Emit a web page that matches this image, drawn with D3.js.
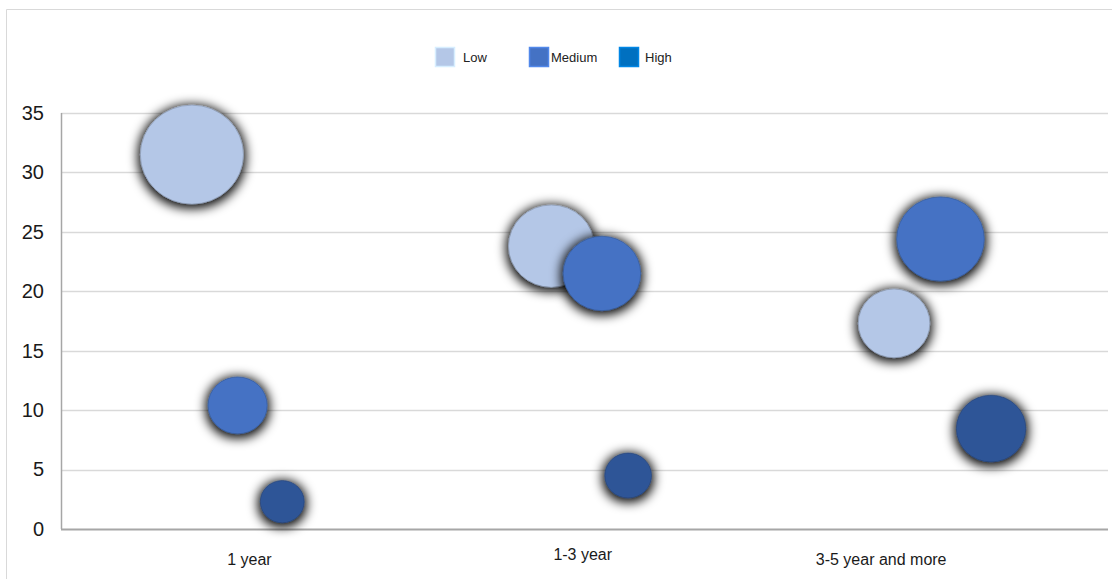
<!DOCTYPE html>
<html>
<head>
<meta charset="utf-8">
<script src="https://cdn.jsdelivr.net/npm/d3@7"></script>
<style>
  html, body { margin: 0; padding: 0; background: #fff; }
  svg { display: block; font-family: "Liberation Sans", Arial, sans-serif; }
</style>
</head>
<body>
<svg id="chart" width="1112" height="579"></svg>
<script>
// Category labels along the x axis and where each sits on the category scale
const categories = ["1 year", "1-3 year", "3-5 year and more"];
const categoryPos = [0.54, 1.495, 2.35];

// Series names and colours
const seriesNames = ["Low", "Medium", "High"];
const seriesColors = ["#B4C7E7", "#4472C4", "#2F5597"];
const legendColors = ["#B4C7E7", "#4472C4", "#0070C0"];

// Bubble x placement (category scale), y value, and bubble size per series
const lowX = [0.375, 1.405, 2.387];
const lowY = [31.5, 23.8, 17.3];
const lowSize = [33.0, 22.8, 15.9];

const mediumX = [0.506, 1.55, 2.52];
const mediumY = [10.4, 21.5, 24.4];
const mediumSize = [10.9, 18.7, 23.9];

const highX = [0.634, 1.625, 2.665];
const highY = [2.3, 4.5, 8.45];
const highSize = [6.0, 6.8, 15.0];

const yTicks = [0, 5, 10, 15, 20, 25, 30, 35];

const series = [
  { name: seriesNames[0], color: seriesColors[0], x: lowX, y: lowY, s: lowSize },
  { name: seriesNames[1], color: seriesColors[1], x: mediumX, y: mediumY, s: mediumSize },
  { name: seriesNames[2], color: seriesColors[2], x: highX, y: highY, s: highSize }
];

const svg = d3.select("#chart");

// Outer chart frame
svg.append("path")
  .attr("d", "M6.5,579 L6.5,9.5 L1112,9.5")
  .attr("fill", "none")
  .attr("stroke", "#d9d9d9")
  .attr("stroke-width", 1);

const plot = { left: 61, right: 1108, top: 113, bottom: 529 };

const x = d3.scaleLinear().domain([0, 3]).range([plot.left, plot.right]);
const y = d3.scaleLinear().domain([0, 35]).range([plot.bottom, plot.top]);
const r = d3.scaleSqrt().domain([0, 35]).range([0, 52]);

// Dark soft shadow behind each bubble
const defs = svg.append("defs");
const f = defs.append("filter").attr("id", "bubbleShadow")
  .attr("x", "-50%").attr("y", "-50%").attr("width", "200%").attr("height", "200%");
f.append("feMorphology").attr("in", "SourceAlpha").attr("operator", "dilate").attr("radius", 1.5).attr("result", "grow");
f.append("feGaussianBlur").attr("in", "grow").attr("stdDeviation", 5.5).attr("result", "blur");
f.append("feOffset").attr("in", "blur").attr("dx", 0).attr("dy", 2).attr("result", "off");
f.append("feComponentTransfer").attr("in", "off").attr("result", "shadow")
  .append("feFuncA").attr("type", "linear").attr("slope", 1.0);
const merge = f.append("feMerge");
merge.append("feMergeNode").attr("in", "shadow");
merge.append("feMergeNode").attr("in", "SourceGraphic");

// Horizontal gridlines
svg.append("g")
  .selectAll("line")
  .data(yTicks.filter(t => t > 0))
  .join("line")
  .attr("x1", plot.left).attr("x2", plot.right)
  .attr("y1", d => Math.round(y(d)) + 0.5).attr("y2", d => Math.round(y(d)) + 0.5)
  .attr("stroke", "#d9d9d9").attr("stroke-width", 1.5);

// Y axis with tick labels
const yAxis = svg.append("g")
  .attr("transform", `translate(${plot.left},0)`)
  .call(d3.axisLeft(y).tickValues(yTicks).tickSize(0).tickPadding(17));
yAxis.select(".domain")
  .attr("stroke", "#a6a6a6").attr("stroke-width", 1.5)
  .attr("d", `M0.5,${plot.top}V${plot.bottom}`);
yAxis.selectAll("text")
  .attr("font-size", 20)
  .attr("fill", "#1a1a1a")
  .attr("font-family", "'Liberation Sans', Arial, sans-serif");

// X axis baseline
svg.append("line")
  .attr("x1", plot.left).attr("x2", plot.right)
  .attr("y1", plot.bottom + 0.5).attr("y2", plot.bottom + 0.5)
  .attr("stroke", "#a6a6a6").attr("stroke-width", 2);

// Category labels
const labelY = [565, 560, 565];
svg.append("g")
  .selectAll("text")
  .data(categories)
  .join("text")
  .attr("x", (d, i) => x(categoryPos[i]))
  .attr("y", (d, i) => labelY[i])
  .attr("text-anchor", "middle")
  .attr("font-size", 16)
  .attr("fill", "#1a1a1a")
  .text(d => d);

// Bubbles
const bubbles = svg.append("g");
series.forEach(s => {
  const pts = s.y.map((v, i) => ({ x: s.x[i], y: v, size: s.s[i] }));
  bubbles.append("g")
    .attr("filter", "url(#bubbleShadow)")
    .selectAll("ellipse")
    .data(pts)
    .join("ellipse")
    .attr("cx", d => x(d.x))
    .attr("cy", d => y(d.y))
    .attr("rx", d => r(d.size) * 1.02)
    .attr("ry", d => r(d.size) * 0.98)
    .attr("fill", s.color)
    .attr("stroke", d3.color(s.color).darker(0.8))
    .attr("stroke-width", 0.6);
});

// Legend
const legendItems = [
  { name: seriesNames[0], color: legendColors[0], box: 435, text: 463 },
  { name: seriesNames[1], color: legendColors[1], box: 529, text: 551 },
  { name: seriesNames[2], color: legendColors[2], box: 619, text: 645 }
];
const legend = svg.append("g");
legendItems.forEach(it => {
  legend.append("rect")
    .attr("x", it.box + 0.5).attr("y", 47.5)
    .attr("width", 19).attr("height", 19)
    .attr("fill", it.color)
    .attr("stroke", d3.color(it.color).brighter(0.5))
    .attr("stroke-width", 1.5);
  legend.append("text")
    .attr("x", it.text).attr("y", 62)
    .attr("font-size", 13)
    .attr("fill", "#222")
    .text(it.name);
});
</script>
</body>
</html>
